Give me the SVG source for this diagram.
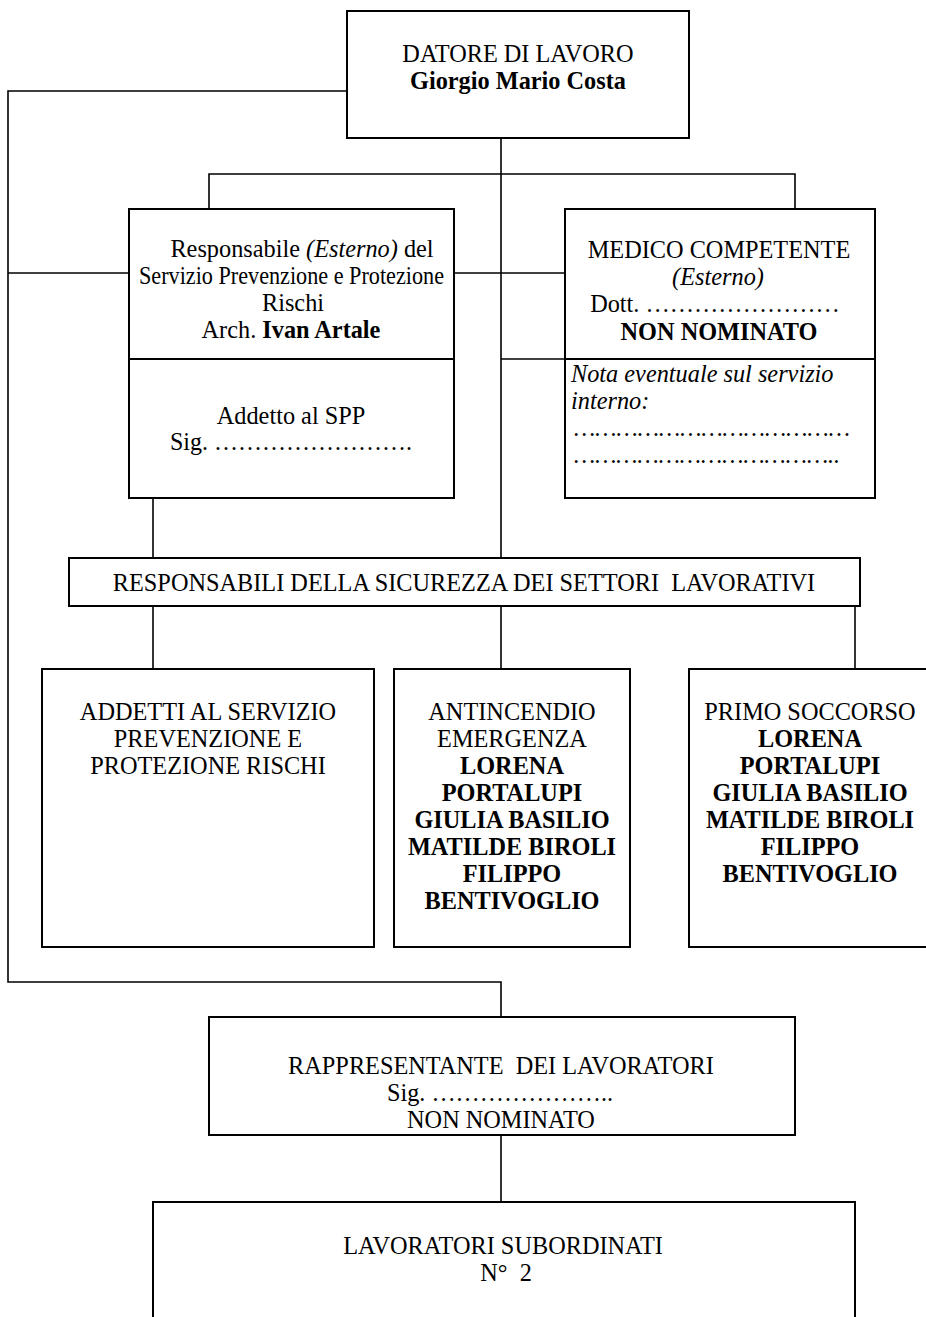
<svg xmlns="http://www.w3.org/2000/svg" width="926" height="1317" viewBox="0 0 926 1317">
<style>
.box{fill:#fff;stroke:#000;stroke-width:2}
.ln{fill:none;stroke:#000;stroke-width:1.6}
text{font-family:"Liberation Serif","Times New Roman",serif;font-size:24.3px;fill:#000;white-space:pre}
.c{text-anchor:middle}
.b{font-weight:bold}
.i{font-style:italic}
</style>
<rect width="926" height="1317" fill="#fff"/>
<g id="connectors">
<polyline class="ln" points="347,91 8,91 8,982 501,982 501,1017"/>
<line class="ln" x1="8" y1="273" x2="129" y2="273"/>
<line class="ln" x1="454" y1="273" x2="565" y2="273"/>
<line class="ln" x1="501" y1="138" x2="501" y2="558"/>
<polyline class="ln" points="209,209 209,174 795,174 795,209"/>
<line class="ln" x1="153" y1="498" x2="153" y2="558"/>
<line class="ln" x1="501" y1="359" x2="565" y2="359"/>
<line class="ln" x1="153" y1="606" x2="153" y2="669"/>
<line class="ln" x1="501" y1="606" x2="501" y2="669"/>
<line class="ln" x1="855" y1="606" x2="855" y2="669"/>
<line class="ln" x1="501" y1="1135" x2="501" y2="1202"/>
</g>
<g id="datore">
<rect class="box" x="347" y="11" width="342" height="127"/>
<text class="c" x="518" y="62">DATORE DI LAVORO</text>
<text class="c b" x="518" y="89">Giorgio Mario Costa</text>
</g>
<g id="rspp">
<rect class="box" x="129" y="209" width="325" height="289"/>
<line class="box" x1="129" y1="359" x2="454" y2="359"/>
<text class="c" x="302" y="257">Responsabile <tspan class="i">(Esterno)</tspan> del</text>
<text x="139" y="284" textLength="305" lengthAdjust="spacingAndGlyphs">Servizio Prevenzione e Protezione</text>
<text class="c" x="293" y="311">Rischi</text>
<text class="c" x="291" y="338">Arch. <tspan class="b">Ivan Artale</tspan></text>
<text class="c" x="291" y="424">Addetto al SPP</text>
<text x="170" y="450" textLength="242" lengthAdjust="spacingAndGlyphs">Sig. &#8230;&#8230;&#8230;&#8230;&#8230;&#8230;&#8230;&#8230;.</text>
</g>
<g id="medico">
<rect class="box" x="565" y="209" width="310" height="289"/>
<line class="box" x1="565" y1="359" x2="875" y2="359"/>
<text class="c" x="719" y="258">MEDICO COMPETENTE</text>
<text class="c i" x="718" y="285">(Esterno)</text>
<text class="c" x="715" y="312">Dott. ……………………</text>
<text class="c b" x="719" y="340">NON NOMINATO</text>
<text class="i" x="571" y="382">Nota eventuale sul servizio</text>
<text class="i" x="571" y="409">interno:</text>
<text class="i" x="574" y="436" textLength="276" lengthAdjust="spacingAndGlyphs">…………………………………</text>
<text class="i" x="574" y="463" textLength="266" lengthAdjust="spacingAndGlyphs">………………………………..</text>
</g>
<g id="responsabili">
<rect class="box" x="69" y="558" width="791" height="48"/>
<text class="c" x="464" y="591">RESPONSABILI DELLA SICUREZZA DEI SETTORI  LAVORATIVI</text>
</g>
<g id="addetti">
<rect class="box" x="42" y="669" width="332" height="278"/>
<text class="c" x="208" y="720">ADDETTI AL SERVIZIO</text>
<text class="c" x="208" y="747">PREVENZIONE E</text>
<text class="c" x="208" y="774">PROTEZIONE RISCHI</text>
</g>
<g id="antincendio">
<rect class="box" x="394" y="669" width="236" height="278"/>
<text class="c" x="512" y="720">ANTINCENDIO</text>
<text class="c" x="512" y="747">EMERGENZA</text>
<text class="c b" x="512" y="774">LORENA</text>
<text class="c b" x="512" y="801">PORTALUPI</text>
<text class="c b" x="512" y="828">GIULIA BASILIO</text>
<text class="c b" x="512" y="855">MATILDE BIROLI</text>
<text class="c b" x="512" y="882">FILIPPO</text>
<text class="c b" x="512" y="909">BENTIVOGLIO</text>
</g>
<g id="primo-soccorso">
<rect class="box" x="689" y="669" width="250" height="278"/>
<text class="c" x="810" y="720">PRIMO SOCCORSO</text>
<text class="c b" x="810" y="747">LORENA</text>
<text class="c b" x="810" y="774">PORTALUPI</text>
<text class="c b" x="810" y="801">GIULIA BASILIO</text>
<text class="c b" x="810" y="828">MATILDE BIROLI</text>
<text class="c b" x="810" y="855">FILIPPO</text>
<text class="c b" x="810" y="882">BENTIVOGLIO</text>
</g>
<g id="rappresentante">
<rect class="box" x="209" y="1017" width="586" height="118"/>
<text class="c" x="501" y="1074">RAPPRESENTANTE  DEI LAVORATORI</text>
<text x="387" y="1101" textLength="226" lengthAdjust="spacingAndGlyphs">Sig. &#8230;&#8230;&#8230;&#8230;&#8230;&#8230;&#8230;..</text>
<text class="c" x="501" y="1128">NON NOMINATO</text>
</g>
<g id="lavoratori">
<rect class="box" x="153" y="1202" width="702" height="140"/>
<text class="c" x="503" y="1254">LAVORATORI SUBORDINATI</text>
<text class="c" x="506" y="1281">N°  2</text>
</g>
</svg>
